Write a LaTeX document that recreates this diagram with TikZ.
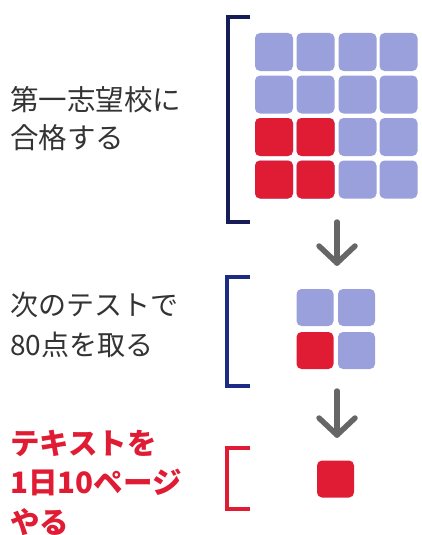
\documentclass[tikz,border=0pt]{standalone}
\usepackage{fontspec}
\newfontfamily\jp{Noto Sans CJK JP}
\usetikzlibrary{arrows.meta,calc}
\definecolor{lav}{HTML}{9AA0DC}
\definecolor{redc}{HTML}{E01C34}
\definecolor{navyA}{HTML}{161C58}
\definecolor{navyB}{HTML}{1C2C84}
\definecolor{txt}{HTML}{333333}
\definecolor{arr}{HTML}{666666}
\tikzset{
  cell/.style={rounded corners=5pt, minimum size=38pt, inner sep=0pt, draw=none},
  lcell/.style={cell, fill=lav},
  rcell/.style={cell, fill=redc},
  brk/.style={line width=3.3pt},
  flow/.style={draw=arr, line width=5.5pt, line cap=round, line join=round},
  label/.style={anchor=west, inner sep=0pt, align=left, font=\jp\fontsize{28.5}{38.5}\selectfont}
}
\begin{document}
\begin{tikzpicture}[x=1pt,y=-1pt]
\useasboundingbox (0,0) rectangle (421,535);
% big grid
\foreach \r/\y in {1/52,2/94.5,3/137,4/179.5}{
  \foreach \c/\x in {1/274,2/315.5,3/357.5,4/398.5}{
    \node[lcell] (g\r\c) at (\x,\y) {};
  }
}
\node[rcell] at (g31) {};
\node[rcell] at (g32) {};
\node[rcell] at (g41) {};
\node[rcell] at (g42) {};
% medium grid
\node[lcell, minimum size=37pt] (m11) at (315,307.5) {};
\node[lcell, minimum size=37pt] (m12) at (356.5,307.5) {};
\node[rcell, minimum size=37pt] (m21) at (315,350.5) {};
\node[lcell, minimum size=37pt] (m22) at (356.5,350.5) {};
% small
\node[rcell, minimum size=37pt] (s11) at (335.5,479) {};
% brackets
\draw[brk, navyA] (250,17) -- (228,17) -- (228,222) -- (250,222);
\draw[brk, navyB] (250,277) -- (227,277) -- (227,386) -- (250,386);
\draw[brk, redc] (250,448) -- (227,448) -- (227,509) -- (250,509);
% arrows
\coordinate (a1s) at (337,222);
\coordinate (a1e) at (337,263);
\coordinate (a2s) at (337,391);
\coordinate (a2e) at (337,435);
\draw[flow] (a1s) -- (a1e);
\draw[flow] ($(a1e)+(-18,-17)$) -- (a1e) -- ($(a1e)+(18,-17)$);
\draw[flow] (a2s) -- (a2e);
\draw[flow] ($(a2e)+(-18,-17)$) -- (a2e) -- ($(a2e)+(18,-17)$);
% labels
\node[label, text=txt] (t1) at (10,118.5) {第一志望校に\\合格する};
\node[label, text=txt, font=\jp\fontsize{28}{40}\selectfont] (t2) at (10,325) {次のテストで\\80点を取る};
\node[label, text=redc, font=\jp\bfseries\fontsize{29.5}{39.5}\selectfont] (t3) at (10,482.5) {テキストを\\1日10ページ\\やる};
\end{tikzpicture}
\end{document}
